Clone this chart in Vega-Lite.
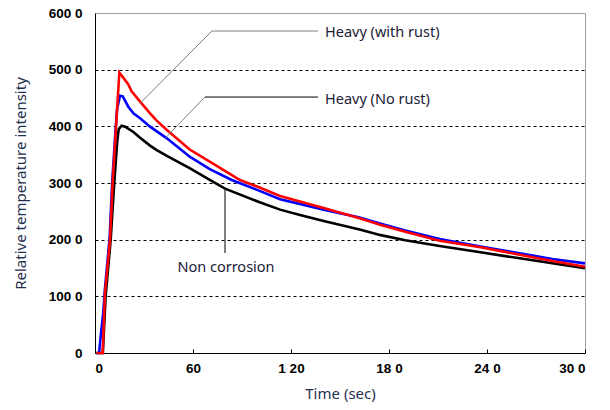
{
  "$schema": "https://vega.github.io/schema/vega-lite/v6.json",
  "width": 490,
  "height": 340,
  "autosize": "none",
  "padding": {"left": 95, "top": 13, "right": 25, "bottom": 57},
  "background": "white",
  "config": {
    "view": {"stroke": "#a0a0a0", "strokeWidth": 1},
    "font": "Noto Sans"
  },
  "datasets": {
    "curves": [
      {"s": "Non corrosion", "t": 1, "v": 0}, {"s": "Non corrosion", "t": 4.8, "v": 0}, {"s": "Non corrosion", "t": 6.5, "v": 1000}, {"s": "Non corrosion", "t": 9.6, "v": 2000}, {"s": "Non corrosion", "t": 11.8, "v": 3000}, {"s": "Non corrosion", "t": 13.5, "v": 3700}, {"s": "Non corrosion", "t": 14.5, "v": 3950}, {"s": "Non corrosion", "t": 16.3, "v": 4011}, {"s": "Non corrosion", "t": 18.4, "v": 3994}, {"s": "Non corrosion", "t": 23.5, "v": 3900}, {"s": "Non corrosion", "t": 27.6, "v": 3800}, {"s": "Non corrosion", "t": 33.7, "v": 3660}, {"s": "Non corrosion", "t": 37.8, "v": 3580}, {"s": "Non corrosion", "t": 44, "v": 3480}, {"s": "Non corrosion", "t": 58.2, "v": 3260}, {"s": "Non corrosion", "t": 70, "v": 3060}, {"s": "Non corrosion", "t": 79.6, "v": 2900}, {"s": "Non corrosion", "t": 100, "v": 2670}, {"s": "Non corrosion", "t": 113.3, "v": 2530}, {"s": "Non corrosion", "t": 125.5, "v": 2435}, {"s": "Non corrosion", "t": 140, "v": 2330}, {"s": "Non corrosion", "t": 162, "v": 2180}, {"s": "Non corrosion", "t": 175, "v": 2080}, {"s": "Non corrosion", "t": 190, "v": 1990}, {"s": "Non corrosion", "t": 211, "v": 1888}, {"s": "Non corrosion", "t": 236, "v": 1777}, {"s": "Non corrosion", "t": 260, "v": 1671}, {"s": "Non corrosion", "t": 280, "v": 1583}, {"s": "Non corrosion", "t": 300, "v": 1494},
      {"s": "Heavy (No rust)", "t": 1, "v": 0}, {"s": "Heavy (No rust)", "t": 2.5, "v": 0}, {"s": "Heavy (No rust)", "t": 3.5, "v": 300}, {"s": "Heavy (No rust)", "t": 5, "v": 700}, {"s": "Heavy (No rust)", "t": 6, "v": 1100}, {"s": "Heavy (No rust)", "t": 9, "v": 2050}, {"s": "Heavy (No rust)", "t": 10.5, "v": 3000}, {"s": "Heavy (No rust)", "t": 12.5, "v": 3900}, {"s": "Heavy (No rust)", "t": 13.5, "v": 4300}, {"s": "Heavy (No rust)", "t": 15.3, "v": 4540}, {"s": "Heavy (No rust)", "t": 17, "v": 4530}, {"s": "Heavy (No rust)", "t": 20.4, "v": 4346}, {"s": "Heavy (No rust)", "t": 23.5, "v": 4230}, {"s": "Heavy (No rust)", "t": 27.6, "v": 4142}, {"s": "Heavy (No rust)", "t": 33.7, "v": 3994}, {"s": "Heavy (No rust)", "t": 44, "v": 3788}, {"s": "Heavy (No rust)", "t": 58, "v": 3464}, {"s": "Heavy (No rust)", "t": 70, "v": 3250}, {"s": "Heavy (No rust)", "t": 83.7, "v": 3053}, {"s": "Heavy (No rust)", "t": 100, "v": 2870}, {"s": "Heavy (No rust)", "t": 113.3, "v": 2712}, {"s": "Heavy (No rust)", "t": 140, "v": 2530}, {"s": "Heavy (No rust)", "t": 162, "v": 2390}, {"s": "Heavy (No rust)", "t": 175, "v": 2280}, {"s": "Heavy (No rust)", "t": 190, "v": 2160}, {"s": "Heavy (No rust)", "t": 211, "v": 2010}, {"s": "Heavy (No rust)", "t": 236, "v": 1880}, {"s": "Heavy (No rust)", "t": 260, "v": 1760}, {"s": "Heavy (No rust)", "t": 280, "v": 1660}, {"s": "Heavy (No rust)", "t": 300, "v": 1582},
      {"s": "Heavy (with rust)", "t": 1, "v": 0}, {"s": "Heavy (with rust)", "t": 4.7, "v": 0}, {"s": "Heavy (with rust)", "t": 6.1, "v": 1050}, {"s": "Heavy (with rust)", "t": 9.2, "v": 2000}, {"s": "Heavy (with rust)", "t": 10.8, "v": 3000}, {"s": "Heavy (with rust)", "t": 12.9, "v": 4000}, {"s": "Heavy (with rust)", "t": 14.9, "v": 4950}, {"s": "Heavy (with rust)", "t": 17.3, "v": 4860}, {"s": "Heavy (with rust)", "t": 20.4, "v": 4740}, {"s": "Heavy (with rust)", "t": 22.4, "v": 4620}, {"s": "Heavy (with rust)", "t": 27.6, "v": 4435}, {"s": "Heavy (with rust)", "t": 33.7, "v": 4230}, {"s": "Heavy (with rust)", "t": 37.8, "v": 4100}, {"s": "Heavy (with rust)", "t": 44, "v": 3935}, {"s": "Heavy (with rust)", "t": 58, "v": 3590}, {"s": "Heavy (with rust)", "t": 70, "v": 3380}, {"s": "Heavy (with rust)", "t": 88.8, "v": 3053}, {"s": "Heavy (with rust)", "t": 100, "v": 2930}, {"s": "Heavy (with rust)", "t": 113.3, "v": 2770}, {"s": "Heavy (with rust)", "t": 140, "v": 2560}, {"s": "Heavy (with rust)", "t": 162, "v": 2377}, {"s": "Heavy (with rust)", "t": 175, "v": 2260}, {"s": "Heavy (with rust)", "t": 190, "v": 2140}, {"s": "Heavy (with rust)", "t": 211, "v": 1980}, {"s": "Heavy (with rust)", "t": 236, "v": 1865}, {"s": "Heavy (with rust)", "t": 260, "v": 1735}, {"s": "Heavy (with rust)", "t": 280, "v": 1623}, {"s": "Heavy (with rust)", "t": 300, "v": 1523}
    ],
    "leaders": [
      {"k": "rust_h", "t1": 71.6, "t2": 136.5, "v1": 5682, "v2": 5682, "c": "#808080"},
      {"k": "rust_d", "t1": 27.6, "t2": 71.6, "v1": 4406, "v2": 5682, "c": "#808080"},
      {"k": "norust_h", "t1": 67.3, "t2": 136.5, "v1": 4517, "v2": 4517, "c": "#000000"},
      {"k": "norust_d", "t1": 42.9, "t2": 67.3, "v1": 3788, "v2": 4517, "c": "#808080"},
      {"k": "non_v", "t1": 79.6, "t2": 79.6, "v1": 2876, "v2": 1765, "c": "#000000"}
    ],
    "labels": [
      {"label": "Heavy (with rust)", "t": 140.8, "v": 5647},
      {"label": "Heavy (No rust)", "t": 140.8, "v": 4464},
      {"label": "Non corrosion", "t": 80.2, "v": 1500}
    ]
  },
  "layer": [
    {
      "data": {"name": "curves"},
      "mark": {"type": "line", "strokeWidth": 2.6, "interpolate": "linear"},
      "encoding": {
        "x": {
          "field": "t", "type": "quantitative",
          "scale": {"domain": [0, 300], "nice": false},
          "axis": {
            "values": [0, 60, 120, 180, 240, 300],
            "labelExpr": "datum.value == 120 ? '1 20' : datum.value == 180 ? '18 0' : datum.value == 240 ? '24 0' : datum.value == 300 ? '30 0' : datum.label",
            "title": "Time (sec)",
            "titleFont": "Noto Sans", "titleFontSize": 15, "titleFontWeight": "normal", "titleColor": "#1f3050", "titlePadding": 12,
            "labelFont": "Liberation Sans", "labelFontSize": 13.5, "labelFontWeight": "bold", "labelColor": "#000000", "labelPadding": 12,
            "grid": false, "domainColor": "#000000", "domainWidth": 1,
            "tickColor": "#000000", "tickSize": -4, "ticks": true
          }
        },
        "y": {
          "field": "v", "type": "quantitative",
          "scale": {"domain": [0, 6000], "nice": false},
          "axis": {
            "values": [0, 1000, 2000, 3000, 4000, 5000, 6000],
            "labelExpr": "datum.value == 0 ? '0' : (datum.value/10) + ' 0'",
            "title": "Relative temperature intensity",
            "titleFont": "Noto Sans", "titleFontSize": 15, "titleFontWeight": "normal", "titleColor": "#1f3050", "titlePadding": 20,
            "labelFont": "Liberation Sans", "labelFontSize": 13.5, "labelFontWeight": "bold", "labelColor": "#000000", "labelPadding": 13,
            "grid": true, "gridColor": "#000000", "gridDash": [3, 3], "gridWidth": 1,
            "gridOpacity": {"condition": {"test": "datum.value == 0 || datum.value == 6000", "value": 0}, "value": 1},
            "domainColor": "#000000", "ticks": false
          }
        },
        "color": {
          "field": "s", "type": "nominal",
          "scale": {"domain": ["Non corrosion", "Heavy (No rust)", "Heavy (with rust)"], "range": ["#000000", "#0000ff", "#ff0000"]},
          "legend": null
        }
      }
    },
    {
      "data": {"name": "leaders"},
      "mark": {"type": "rule", "strokeWidth": 1},
      "encoding": {
        "x": {"field": "t1", "type": "quantitative"},
        "x2": {"field": "t2"},
        "y": {"field": "v1", "type": "quantitative"},
        "y2": {"field": "v2"},
        "color": {"field": "c", "type": "nominal", "scale": null}
      }
    },
    {
      "data": {"name": "labels"},
      "transform": [{"filter": "datum.label != 'Non corrosion'"}],
      "mark": {"type": "text", "font": "Noto Sans", "fontSize": 14.5, "color": "#1a2035", "align": "left", "baseline": "middle"},
      "encoding": {
        "x": {"field": "t", "type": "quantitative"},
        "y": {"field": "v", "type": "quantitative"},
        "text": {"field": "label"}
      }
    },
    {
      "data": {"name": "labels"},
      "transform": [{"filter": "datum.label == 'Non corrosion'"}],
      "mark": {"type": "text", "font": "Noto Sans", "fontSize": 14.5, "color": "#1a2035", "align": "center", "baseline": "middle"},
      "encoding": {
        "x": {"field": "t", "type": "quantitative"},
        "y": {"field": "v", "type": "quantitative"},
        "text": {"field": "label"}
      }
    }
  ]
}
